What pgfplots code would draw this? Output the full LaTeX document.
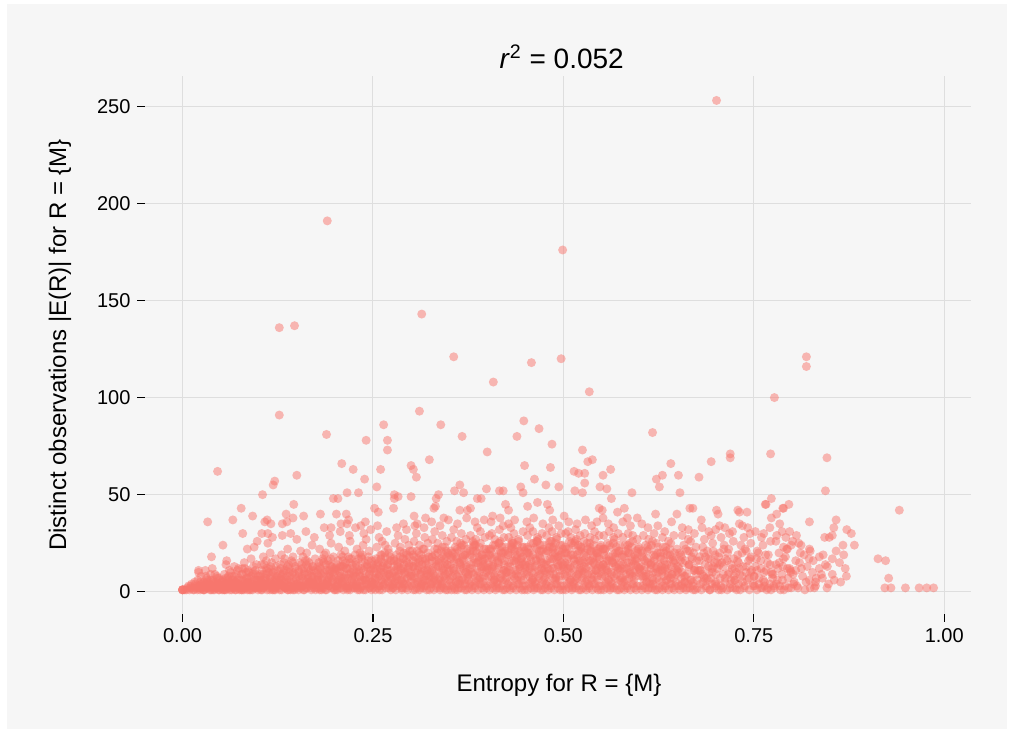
\documentclass[border=0pt]{standalone}
\usepackage{pgfplots}
\pgfplotsset{compat=1.18}
\usepackage{fontspec}
\setmainfont{Liberation Sans}
\definecolor{bgc}{HTML}{F6F6F6}
\definecolor{gridc}{HTML}{DEDEDE}
\definecolor{ptc}{HTML}{F8766D}
\begin{document}
\begin{tikzpicture}
\fill[white] (0,0) rectangle (507pt,364.5pt);
\fill[bgc] (3.5pt,0pt) rectangle (503.5pt,362.5pt);
\begin{axis}[
  at={(72.5pt,57.35pt)}, anchor=south west,
  scale only axis, width=412.85pt, height=269.15pt,
  xmin=-0.0493, xmax=1.0347, ymin=-11.6, ymax=265.6,
  xtick={0,0.25,0.5,0.75,1}, xticklabels={0.00,0.25,0.50,0.75,1.00},
  ytick={0,50,100,150,200,250},
  axis line style={draw=none},
  tick align=outside, tick pos=left, major tick length=3.75pt,
  tick style={black, line width=0.6pt},
  grid=major, major grid style={color=gridc, line width=0.5pt},
  ticklabel style={font=\fontsize{10}{12}\selectfont, text=black},
  /pgf/number format/assume math mode=true,
]
\addplot[only marks, color=ptc, mark=*, mark size=2.25pt, mark options={draw=ptc, fill=ptc, draw opacity=0, fill opacity=0.5, line width=0pt}] coordinates {
(0.701,253) (0.190,191) (0.499,176) (0.127,136) (0.147,137) (0.314,143) (0.356,121) (0.458,118) (0.497,120) (0.408,108) (0.534,103) (0.819,121) (0.819,116) (0.777,100)
(0.127,91) (0.311,93) (0.189,81) (0.264,86) (0.241,78) (0.269,78) (0.269,73) (0.046,62) (0.209,66) (0.224,63) (0.260,63) (0.150,60) (0.121,57) (0.119,55) (0.239,58) (0.300,65) (0.303,63) (0.307,59) (0.255,54) (0.105,50) (0.216,51) (0.231,51) (0.198,48) (0.204,48) (0.278,50) (0.283,49) (0.278,48) (0.300,49) (0.146,45) (0.077,43) (0.092,39) (0.033,36) (0.066,37) (0.136,40) (0.159,39) (0.181,40) (0.202,40) (0.215,40) (0.218,37) (0.252,43) (0.257,41) (0.277,43) (0.304,39) (0.111,37) (0.108,36) (0.116,35) (0.145,38) (0.137,36) (0.131,35) (0.195,33) (0.208,35) (0.216,35) (0.240,36) (0.234,34) (0.290,35) (0.308,35)
(0.339,86) (0.367,80) (0.448,88) (0.468,84) (0.439,80) (0.485,76) (0.400,72) (0.617,82) (0.324,68) (0.449,65) (0.483,64) (0.525,73) (0.532,67) (0.538,68) (0.514,62) (0.520,61) (0.528,61) (0.562,63) (0.552,60) (0.641,66) (0.622,58) (0.630,60) (0.626,54) (0.651,60) (0.653,51) (0.462,58) (0.477,55) (0.494,54) (0.444,54) (0.447,51) (0.399,53) (0.416,52) (0.421,52) (0.357,52) (0.364,55) (0.369,51) (0.336,50) (0.333,48) (0.332,44) (0.330,43) (0.387,48) (0.392,48) (0.515,52) (0.525,51) (0.528,56) (0.548,54) (0.557,53) (0.590,51) (0.563,48) (0.424,45) (0.428,42) (0.453,44) (0.466,46) (0.479,45) (0.482,42) (0.378,43) (0.364,42) (0.374,42) (0.407,39) (0.319,38) (0.343,38) (0.501,39) (0.547,43) (0.551,42) (0.552,38) (0.571,41) (0.580,43) (0.584,38) (0.597,38) (0.621,40) (0.649,40) (0.666,43)
(0.719,71) (0.719,69) (0.694,67) (0.678,59) (0.772,71) (0.846,69) (0.844,52) (0.941,42) (0.773,48) (0.765,45) (0.766,45) (0.773,38) (0.780,40) (0.789,43) (0.796,45) (0.670,43) (0.701,42) (0.703,40) (0.729,42) (0.731,41) (0.741,41) (0.681,37) (0.705,34) (0.735,34) (0.823,36) (0.858,37) (0.855,33) (0.872,32)
(0.913,17) (0.923,16) (0.927,7) (0.922,2) (0.930,2) (0.949,2) (0.967,2) (0.977,2) (0.986,2) (0.878,30) (0.882,24) (0.867,24) (0.868,19) (0.843,28) (0.849,28) (0.853,29) (0.841,19) (0.853,17) (0.836,12) (0.832,7) (0.831,5) (0.824,2) (0.846,2) (0.823,22) (0.828,16) (0.816,19) (0.824,21) (0.803,5) (0.810,15) (0.805,11) (0.798,11) (0.794,12) (0.788,13) (0.799,24) (0.809,25) (0.794,22) (0.789,23) (0.797,31) (0.787,31) (0.780,29) (0.779,26) (0.784,3) (0.776,3) (0.764,3) (0.759,2) (0.773,10) (0.768,15) (0.754,11) (0.788,43)
(0,1) (0,1) (0,1) (0,1) (0.003,1) (0.006,2) (0.009,1) (0.011,3) (0.013,2) (0.015,1) (0.017,4) (0.019,2) (0.020,6) (0.022,3) (0.023,1) (0.024,8) (0.016,5) (0.021,10) (0.012,4) (0.008,3)
(0.026,2) (0.028,5) (0.029,1) (0.031,3) (0.032,7) (0.033,2) (0.035,4) (0.036,1) (0.037,9) (0.038,3) (0.040,6) (0.041,2) (0.042,1) (0.043,5) (0.044,3) (0.045,8) (0.046,2) (0.047,4) (0.048,1) (0.049,6) (0.030,11) (0.039,12)
(0.051,3) (0.052,1) (0.053,6) (0.054,2) (0.055,9) (0.056,4) (0.057,1) (0.058,3) (0.059,7) (0.060,2) (0.061,5) (0.062,1) (0.063,10) (0.064,3) (0.065,6) (0.066,2) (0.067,4) (0.068,8) (0.069,1) (0.070,5) (0.071,3) (0.072,11) (0.073,2) (0.074,7) (0.057,14) (0.068,13)
(0.076,2) (0.077,6) (0.078,1) (0.079,9) (0.080,3) (0.081,4) (0.082,12) (0.083,2) (0.084,7) (0.085,1) (0.086,5) (0.087,10) (0.088,3) (0.089,2) (0.090,8) (0.091,4) (0.092,1) (0.093,13) (0.094,6) (0.095,2) (0.096,9) (0.097,3) (0.098,5) (0.099,1) (0.081,15) (0.090,17) (0.097,14) (0.086,11)
(0.101,3) (0.102,8) (0.103,1) (0.104,11) (0.105,4) (0.106,2) (0.107,14) (0.108,6) (0.109,3) (0.110,9) (0.111,1) (0.112,5) (0.113,12) (0.114,2) (0.115,7) (0.116,4) (0.117,15) (0.118,1) (0.119,10) (0.120,3) (0.121,6) (0.122,2) (0.123,13) (0.124,8) (0.106,18) (0.115,20) (0.122,17) (0.110,16) (0.104,5) (0.119,4)
(0.126,2) (0.127,7) (0.128,4) (0.129,12) (0.130,1) (0.131,9) (0.132,3) (0.133,15) (0.134,5) (0.135,2) (0.136,11) (0.137,6) (0.138,1) (0.139,14) (0.140,3) (0.141,8) (0.142,4) (0.143,16) (0.144,2) (0.145,10) (0.146,5) (0.147,1) (0.148,13) (0.149,7) (0.130,19) (0.138,22) (0.145,18) (0.134,17) (0.141,3) (0.128,9)
(0.151,4) (0.152,1) (0.153,10) (0.154,6) (0.155,2) (0.156,14) (0.157,8) (0.158,3) (0.159,12) (0.160,1) (0.161,16) (0.162,5) (0.163,2) (0.164,9) (0.165,7) (0.166,15) (0.167,3) (0.168,11) (0.169,1) (0.170,6) (0.171,13) (0.172,4) (0.173,2) (0.174,17) (0.155,21) (0.163,20) (0.170,24) (0.158,18) (0.167,5) (0.153,3)
(0.176,2) (0.177,9) (0.178,5) (0.179,15) (0.180,1) (0.181,12) (0.182,3) (0.183,7) (0.184,17) (0.185,2) (0.186,10) (0.187,4) (0.188,14) (0.189,1) (0.190,6) (0.191,16) (0.192,3) (0.193,11) (0.194,8) (0.195,2) (0.196,13) (0.197,5) (0.198,18) (0.199,1) (0.180,22) (0.188,20) (0.195,25) (0.184,4) (0.192,7) (0.178,11) (0.186,19) (0.198,9)
(0.201,3) (0.202,11) (0.203,1) (0.204,16) (0.205,6) (0.206,2) (0.207,13) (0.208,8) (0.209,4) (0.210,18) (0.211,1) (0.212,9) (0.213,5) (0.214,15) (0.215,2) (0.216,12) (0.217,7) (0.218,3) (0.219,17) (0.220,1) (0.221,10) (0.222,6) (0.223,14) (0.224,4) (0.205,23) (0.213,21) (0.220,26) (0.208,19) (0.216,3) (0.224,8) (0.202,5) (0.211,13)
(0.226,2) (0.227,8) (0.228,14) (0.229,4) (0.230,1) (0.231,17) (0.232,10) (0.233,5) (0.234,2) (0.235,12) (0.236,19) (0.237,6) (0.238,3) (0.239,15) (0.240,1) (0.241,9) (0.242,13) (0.243,4) (0.244,18) (0.245,7) (0.246,2) (0.247,11) (0.248,16) (0.249,5) (0.229,22) (0.237,24) (0.245,21) (0.233,20) (0.241,27) (0.228,3) (0.235,6) (0.248,1)
(0.251,4) (0.252,12) (0.253,1) (0.254,17) (0.255,7) (0.256,2) (0.257,15) (0.258,9) (0.259,3) (0.260,19) (0.261,6) (0.262,1) (0.263,13) (0.264,10) (0.265,4) (0.266,18) (0.267,2) (0.268,8) (0.269,14) (0.270,5) (0.271,20) (0.272,3) (0.273,11) (0.274,16) (0.255,23) (0.262,26) (0.270,22) (0.258,28) (0.266,24) (0.253,6) (0.261,11) (0.272,8)
(0.276,2) (0.277,10) (0.278,16) (0.279,5) (0.280,1) (0.281,19) (0.282,8) (0.283,13) (0.284,3) (0.285,21) (0.286,6) (0.287,11) (0.288,1) (0.289,17) (0.290,4) (0.291,14) (0.292,9) (0.293,2) (0.294,20) (0.295,7) (0.296,12) (0.297,3) (0.298,18) (0.299,5) (0.279,25) (0.286,23) (0.292,27) (0.297,24) (0.283,29) (0.277,4) (0.289,2) (0.295,15) (0.281,7) (0.291,10)
(0.301,3) (0.302,13) (0.303,1) (0.304,18) (0.305,7) (0.306,10) (0.307,2) (0.308,21) (0.309,5) (0.310,15) (0.311,1) (0.312,9) (0.313,19) (0.314,4) (0.315,12) (0.316,2) (0.317,22) (0.318,6) (0.319,16) (0.320,3) (0.321,11) (0.322,20) (0.323,8) (0.324,1) (0.304,26) (0.311,24) (0.318,28) (0.322,25) (0.307,30) (0.315,5) (0.302,8) (0.320,14) (0.313,3) (0.309,17)
(0.326,2) (0.327,11) (0.328,18) (0.329,5) (0.330,1) (0.331,22) (0.332,8) (0.333,14) (0.334,3) (0.335,20) (0.336,6) (0.337,10) (0.338,1) (0.339,17) (0.340,4) (0.341,23) (0.342,12) (0.343,2) (0.344,15) (0.345,7) (0.346,21) (0.347,3) (0.348,9) (0.349,19) (0.328,27) (0.335,25) (0.341,29) (0.347,26) (0.331,31) (0.339,6) (0.345,13) (0.327,4) (0.343,8) (0.333,16) (0.348,1)
(0.351,3) (0.352,14) (0.353,1) (0.354,20) (0.355,8) (0.356,11) (0.357,2) (0.358,23) (0.359,5) (0.360,17) (0.361,1) (0.362,9) (0.363,21) (0.364,4) (0.365,13) (0.366,2) (0.367,24) (0.368,7) (0.369,16) (0.370,3) (0.371,19) (0.372,10) (0.373,1) (0.374,22) (0.353,28) (0.360,26) (0.366,30) (0.372,27) (0.356,32) (0.363,6) (0.369,12) (0.352,5) (0.359,18) (0.371,4) (0.365,25)
(0.376,2) (0.377,12) (0.378,19) (0.379,5) (0.380,1) (0.381,23) (0.382,9) (0.383,15) (0.384,3) (0.385,21) (0.386,7) (0.387,11) (0.388,1) (0.389,18) (0.390,4) (0.391,25) (0.392,13) (0.393,2) (0.394,16) (0.395,8) (0.396,22) (0.397,3) (0.398,10) (0.399,20) (0.378,29) (0.385,27) (0.391,31) (0.397,28) (0.381,26) (0.389,6) (0.395,14) (0.377,4) (0.393,17) (0.383,24) (0.399,2) (0.387,33)
(0.401,3) (0.402,15) (0.403,1) (0.404,21) (0.405,8) (0.406,12) (0.407,2) (0.408,24) (0.409,6) (0.410,18) (0.411,1) (0.412,10) (0.413,22) (0.414,4) (0.415,14) (0.416,2) (0.417,26) (0.418,7) (0.419,17) (0.420,3) (0.421,20) (0.422,11) (0.423,1) (0.424,23) (0.403,29) (0.410,27) (0.416,32) (0.422,28) (0.406,30) (0.413,5) (0.419,9) (0.402,19) (0.408,13) (0.424,6) (0.415,25) (0.421,34)
(0.426,2) (0.427,13) (0.428,20) (0.429,5) (0.430,1) (0.431,24) (0.432,9) (0.433,16) (0.434,3) (0.435,22) (0.436,7) (0.437,11) (0.438,1) (0.439,19) (0.440,4) (0.441,26) (0.442,14) (0.443,2) (0.444,17) (0.445,8) (0.446,23) (0.447,3) (0.448,10) (0.449,21) (0.428,28) (0.435,30) (0.441,27) (0.447,31) (0.431,33) (0.439,6) (0.445,15) (0.427,4) (0.443,12) (0.433,25) (0.449,1) (0.437,18)
(0.451,3) (0.452,16) (0.453,1) (0.454,22) (0.455,8) (0.456,12) (0.457,2) (0.458,25) (0.459,6) (0.460,19) (0.461,1) (0.462,10) (0.463,23) (0.464,4) (0.465,14) (0.466,2) (0.467,27) (0.468,7) (0.469,18) (0.470,3) (0.471,21) (0.472,11) (0.473,1) (0.474,24) (0.453,29) (0.460,31) (0.466,28) (0.472,30) (0.456,33) (0.463,5) (0.469,9) (0.452,20) (0.458,13) (0.474,6) (0.465,26) (0.471,15)
(0.476,2) (0.477,14) (0.478,21) (0.479,5) (0.480,1) (0.481,25) (0.482,9) (0.483,17) (0.484,3) (0.485,23) (0.486,7) (0.487,12) (0.488,1) (0.489,20) (0.490,4) (0.491,27) (0.492,15) (0.493,2) (0.494,18) (0.495,8) (0.496,24) (0.497,3) (0.498,11) (0.499,22) (0.478,29) (0.485,31) (0.491,28) (0.497,30) (0.481,33) (0.489,6) (0.495,16) (0.477,4) (0.493,13) (0.483,26) (0.499,1) (0.487,19)
(0.501,3) (0.502,15) (0.503,1) (0.504,22) (0.505,8) (0.506,12) (0.507,2) (0.508,26) (0.509,6) (0.510,19) (0.511,1) (0.512,10) (0.513,24) (0.514,4) (0.515,14) (0.516,2) (0.517,27) (0.518,7) (0.519,17) (0.520,3) (0.521,21) (0.522,11) (0.523,1) (0.524,23) (0.503,30) (0.510,28) (0.516,32) (0.522,29) (0.506,31) (0.513,5) (0.519,9) (0.502,20) (0.508,13) (0.524,6) (0.515,25) (0.521,16)
(0.526,2) (0.527,13) (0.528,20) (0.529,5) (0.530,1) (0.531,25) (0.532,9) (0.533,16) (0.534,3) (0.535,23) (0.536,7) (0.537,11) (0.538,1) (0.539,19) (0.540,4) (0.541,27) (0.542,14) (0.543,2) (0.544,18) (0.545,8) (0.546,22) (0.547,3) (0.548,10) (0.549,24) (0.528,30) (0.535,28) (0.541,31) (0.547,29) (0.531,6) (0.539,15) (0.545,12) (0.527,26) (0.543,21) (0.533,4) (0.549,1)
(0.551,3) (0.552,14) (0.553,1) (0.554,21) (0.555,8) (0.556,12) (0.557,2) (0.558,25) (0.559,6) (0.560,18) (0.561,1) (0.562,10) (0.563,23) (0.564,4) (0.565,15) (0.566,2) (0.567,27) (0.568,7) (0.569,17) (0.570,3) (0.571,20) (0.572,11) (0.573,1) (0.574,24) (0.553,29) (0.560,31) (0.566,28) (0.572,30) (0.556,5) (0.563,9) (0.569,13) (0.552,22) (0.558,16) (0.574,6)
(0.576,2) (0.577,12) (0.578,19) (0.579,5) (0.580,1) (0.581,24) (0.582,9) (0.583,15) (0.584,3) (0.585,22) (0.586,7) (0.587,11) (0.588,1) (0.589,18) (0.590,4) (0.591,26) (0.592,14) (0.593,2) (0.594,17) (0.595,8) (0.596,21) (0.597,3) (0.598,10) (0.599,23) (0.578,28) (0.585,30) (0.591,29) (0.597,27) (0.581,6) (0.589,13) (0.595,16) (0.587,25)
(0.601,3) (0.602,13) (0.603,1) (0.604,20) (0.605,7) (0.606,11) (0.607,2) (0.608,24) (0.609,5) (0.610,17) (0.611,1) (0.612,9) (0.613,22) (0.614,4) (0.615,14) (0.616,2) (0.617,26) (0.618,6) (0.619,16) (0.620,3) (0.621,19) (0.622,10) (0.623,1) (0.624,23) (0.605,29) (0.612,27) (0.619,30) (0.608,8) (0.615,12) (0.622,25)
(0.626,2) (0.627,11) (0.628,18) (0.629,5) (0.630,1) (0.631,23) (0.632,8) (0.633,14) (0.634,3) (0.635,21) (0.636,6) (0.637,10) (0.638,1) (0.639,17) (0.640,4) (0.641,25) (0.642,13) (0.643,2) (0.644,16) (0.645,7) (0.646,20) (0.647,3) (0.648,9) (0.649,22) (0.630,28) (0.638,26) (0.645,29) (0.633,12)
(0.651,3) (0.652,12) (0.653,1) (0.654,19) (0.655,7) (0.656,10) (0.657,2) (0.658,24) (0.659,5) (0.660,16) (0.661,1) (0.662,9) (0.663,21) (0.664,4) (0.665,14) (0.666,2) (0.667,26) (0.668,6) (0.669,17) (0.670,3) (0.671,20) (0.672,11) (0.673,1) (0.674,23) (0.656,29) (0.664,27)
(0.676,2) (0.677,11) (0.679,18) (0.680,4) (0.681,1) (0.683,23) (0.684,8) (0.686,14) (0.687,3) (0.689,21) (0.690,6) (0.691,10) (0.692,1) (0.693,17) (0.695,4) (0.696,25) (0.697,13) (0.698,2) (0.699,19) (0.685,27) (0.694,29) (0.688,7)
(0.701,3) (0.702,12) (0.704,1) (0.705,20) (0.706,7) (0.708,15) (0.709,2) (0.711,24) (0.712,5) (0.713,17) (0.715,1) (0.716,9) (0.717,22) (0.719,4) (0.720,14) (0.722,2) (0.723,26) (0.724,8) (0.707,28) (0.718,30)
(0.726,2) (0.727,10) (0.729,19) (0.730,4) (0.732,1) (0.733,24) (0.735,8) (0.736,13) (0.738,3) (0.740,21) (0.741,6) (0.743,16) (0.744,1) (0.746,25) (0.747,11) (0.749,3) (0.737,28) (0.745,30)
(0.751,3) (0.752,13) (0.754,1) (0.756,20) (0.757,7) (0.759,16) (0.761,2) (0.762,24) (0.764,5) (0.766,11) (0.767,1) (0.769,19) (0.771,4) (0.772,26) (0.774,9) (0.760,28)
(0.777,2) (0.779,14) (0.781,6) (0.783,20) (0.785,1) (0.787,9) (0.789,17) (0.791,3) (0.793,22) (0.795,7) (0.797,12) (0.799,2)
(0.802,4) (0.805,16) (0.808,2) (0.811,20) (0.814,8) (0.817,1) (0.820,13) (0.823,6)
(0.827,10) (0.831,3) (0.836,18) (0.840,7) (0.844,14) (0.848,4) (0.853,9) (0.858,21) (0.864,5) (0.870,12)
(0.085,22) (0.098,26) (0.112,25) (0.118,28) (0.131,29) (0.142,30) (0.104,30) (0.112,30) (0.094,23) (0.053,24) (0.038,18) (0.079,30) (0.021,11) (0.058,16) (0.150,27) (0.162,31) (0.173,28) (0.186,33) (0.193,29) (0.207,31) (0.219,29) (0.227,33) (0.238,30) (0.247,32) (0.256,34) (0.268,31) (0.281,33) (0.294,32) (0.305,34) (0.317,33) (0.327,36) (0.338,34) (0.349,37) (0.361,35) (0.373,38) (0.384,36) (0.396,37) (0.405,36) (0.417,38) (0.428,35) (0.436,37) (0.452,36) (0.461,38) (0.473,35) (0.486,37) (0.494,34) (0.507,36) (0.518,35) (0.529,37) (0.537,34) (0.544,36) (0.559,35) (0.566,33) (0.578,36) (0.588,34) (0.603,35) (0.611,33) (0.624,34) (0.633,31) (0.642,36) (0.656,33) (0.664,32) (0.672,30) (0.682,33) (0.691,31) (0.700,32) (0.712,33) (0.722,31) (0.731,35) (0.742,33) (0.752,31) (0.763,30) (0.771,33) (0.784,35) (0.792,28) (0.801,26) (0.812,24) (0.806,29)
(0.005,1) (0.010,2) (0.014,1) (0.018,3) (0.0215,2) (0.0245,4) (0.0195,1) (0.0235,5)
(0.0255,3) (0.0275,1) (0.0295,4) (0.0315,2) (0.0335,6) (0.0355,3) (0.0375,1) (0.0395,5) (0.0415,3) (0.0435,2) (0.0455,7) (0.0475,1) (0.0495,3) (0.0305,8) (0.0425,9)
(0.0505,2) (0.0525,5) (0.0545,1) (0.0565,7) (0.0585,3) (0.0605,8) (0.0625,4) (0.0645,1) (0.0665,6) (0.0685,2) (0.0705,9) (0.0725,4) (0.0745,1) (0.0555,3) (0.0615,11) (0.0695,5) (0.0735,12)
(0.0755,4) (0.0775,1) (0.0795,6) (0.0815,2) (0.0835,10) (0.0855,3) (0.0875,7) (0.0895,1) (0.0915,5) (0.0935,3) (0.0955,11) (0.0975,2) (0.0995,8) (0.0785,12) (0.0865,4) (0.0925,9) (0.0985,6) (0.0805,1)
(0.1005,2) (0.1025,6) (0.1045,1) (0.1065,9) (0.1085,3) (0.1105,12) (0.1125,4) (0.1145,1) (0.1165,8) (0.1185,2) (0.1205,11) (0.1225,5) (0.1245,3) (0.1035,14) (0.1095,7) (0.1155,13) (0.1215,1) (0.1075,4) (0.1135,10) (0.1235,6)
(0.1255,5) (0.1275,1) (0.1295,8) (0.1315,3) (0.1335,11) (0.1355,2) (0.1375,13) (0.1395,6) (0.1415,1) (0.1435,9) (0.1455,3) (0.1475,12) (0.1495,4) (0.1285,14) (0.1345,7) (0.1405,10) (0.1465,2) (0.1325,5) (0.1385,1) (0.1445,15)
(0.1505,2) (0.1525,8) (0.1545,3) (0.1565,12) (0.1585,1) (0.1605,6) (0.1625,14) (0.1645,4) (0.1665,10) (0.1685,2) (0.1705,13) (0.1725,7) (0.1745,1) (0.1535,15) (0.1595,9) (0.1655,5) (0.1715,11) (0.1575,3) (0.1635,16) (0.1695,8) (0.1735,4)
(0.1755,4) (0.1775,13) (0.1795,2) (0.1815,9) (0.1835,6) (0.1855,15) (0.1875,1) (0.1895,11) (0.1915,3) (0.1935,14) (0.1955,7) (0.1975,2) (0.1995,12) (0.1785,8) (0.1845,16) (0.1905,5) (0.1965,10) (0.1825,1) (0.1885,4) (0.1945,17) (0.1765,6)
(0.2005,1) (0.2025,14) (0.2045,4) (0.2065,10) (0.2085,2) (0.2105,16) (0.2125,7) (0.2145,12) (0.2165,1) (0.2185,9) (0.2205,15) (0.2225,3) (0.2245,11) (0.2035,6) (0.2095,13) (0.2155,5) (0.2215,17) (0.2055,8) (0.2115,3) (0.2175,18) (0.2235,2) (0.2015,12)
(0.2255,6) (0.2275,15) (0.2295,2) (0.2315,11) (0.2335,8) (0.2355,17) (0.2375,1) (0.2395,13) (0.2415,4) (0.2435,16) (0.2455,9) (0.2475,3) (0.2495,14) (0.2285,10) (0.2345,18) (0.2405,6) (0.2465,12) (0.2325,1) (0.2385,7) (0.2445,2) (0.2265,19) (0.2485,5)
(0.2505,2) (0.2525,16) (0.2545,9) (0.2565,13) (0.2585,1) (0.2605,17) (0.2625,5) (0.2645,15) (0.2665,7) (0.2685,11) (0.2705,2) (0.2725,18) (0.2745,6) (0.2535,4) (0.2595,12) (0.2655,20) (0.2715,9) (0.2575,8) (0.2635,3) (0.2695,14) (0.2735,1) (0.2515,10) (0.2615,19)
(0.2755,7) (0.2775,17) (0.2795,3) (0.2815,14) (0.2835,9) (0.2855,18) (0.2875,2) (0.2895,12) (0.2915,6) (0.2935,16) (0.2955,1) (0.2975,13) (0.2995,8) (0.2785,11) (0.2845,4) (0.2905,20) (0.2965,10) (0.2825,15) (0.2885,5) (0.2945,19) (0.2765,2) (0.2985,21) (0.2865,12)
(0.3005,9) (0.3025,19) (0.3045,4) (0.3065,15) (0.3085,11) (0.3105,20) (0.3125,2) (0.3145,14) (0.3165,7) (0.3185,17) (0.3205,1) (0.3225,12) (0.3245,5) (0.3035,13) (0.3095,6) (0.3155,22) (0.3215,9) (0.3055,1) (0.3115,16) (0.3175,3) (0.3235,18) (0.3015,21) (0.3135,10) (0.3195,8)
(0.3255,4) (0.3275,16) (0.3295,9) (0.3315,19) (0.3335,2) (0.3355,13) (0.3375,7) (0.3395,21) (0.3415,5) (0.3435,17) (0.3455,1) (0.3475,14) (0.3495,10) (0.3285,12) (0.3345,22) (0.3405,3) (0.3465,18) (0.3305,6) (0.3365,15) (0.3425,11) (0.3485,20) (0.3265,8) (0.3385,2) (0.3445,23)
(0.3505,11) (0.3525,21) (0.3545,3) (0.3565,16) (0.3585,9) (0.3605,22) (0.3625,2) (0.3645,14) (0.3665,6) (0.3685,19) (0.3705,1) (0.3725,13) (0.3745,8) (0.3535,18) (0.3595,5) (0.3655,23) (0.3715,10) (0.3555,12) (0.3615,4) (0.3675,17) (0.3735,20) (0.3515,7) (0.3635,15) (0.3695,24) (0.3575,1)
(0.3755,6) (0.3775,18) (0.3795,10) (0.3815,21) (0.3835,2) (0.3855,15) (0.3875,8) (0.3895,23) (0.3915,4) (0.3935,19) (0.3955,1) (0.3975,13) (0.3995,11) (0.3785,14) (0.3845,24) (0.3905,7) (0.3965,17) (0.3805,3) (0.3865,20) (0.3925,12) (0.3985,22) (0.3765,9) (0.3885,16) (0.3945,5) (0.3825,25)
(0.4005,12) (0.4025,22) (0.4045,4) (0.4065,17) (0.4085,9) (0.4105,24) (0.4125,2) (0.4145,15) (0.4165,7) (0.4185,20) (0.4205,1) (0.4225,14) (0.4245,10) (0.4035,19) (0.4095,6) (0.4155,25) (0.4215,11) (0.4055,13) (0.4115,3) (0.4175,18) (0.4235,21) (0.4015,8) (0.4135,16) (0.4195,23) (0.4075,5)
(0.4255,7) (0.4275,19) (0.4295,11) (0.4315,22) (0.4335,2) (0.4355,16) (0.4375,9) (0.4395,24) (0.4415,4) (0.4435,20) (0.4455,1) (0.4475,14) (0.4495,12) (0.4285,15) (0.4345,25) (0.4405,8) (0.4465,18) (0.4305,3) (0.4365,21) (0.4425,13) (0.4485,23) (0.4265,10) (0.4385,17) (0.4445,6) (0.4325,26)
(0.4505,13) (0.4525,23) (0.4545,4) (0.4565,18) (0.4585,10) (0.4605,25) (0.4625,2) (0.4645,16) (0.4665,8) (0.4685,21) (0.4705,1) (0.4725,15) (0.4745,11) (0.4535,20) (0.4595,6) (0.4655,26) (0.4715,12) (0.4555,14) (0.4615,3) (0.4675,19) (0.4735,22) (0.4515,9) (0.4635,17) (0.4695,24) (0.4575,5)
(0.4755,7) (0.4775,20) (0.4795,12) (0.4815,23) (0.4835,2) (0.4855,17) (0.4875,9) (0.4895,25) (0.4915,4) (0.4935,21) (0.4955,1) (0.4975,15) (0.4995,13) (0.4785,16) (0.4845,26) (0.4905,8) (0.4965,19) (0.4805,3) (0.4865,22) (0.4925,14) (0.4985,24) (0.4765,10) (0.4885,18) (0.4945,6) (0.4825,11)
(0.5005,12) (0.5025,23) (0.5045,4) (0.5065,18) (0.5085,10) (0.5105,25) (0.5125,2) (0.5145,16) (0.5165,8) (0.5185,21) (0.5205,1) (0.5225,15) (0.5245,11) (0.5035,20) (0.5095,6) (0.5155,26) (0.5215,12) (0.5055,14) (0.5115,3) (0.5175,19) (0.5235,22) (0.5015,9) (0.5135,17) (0.5195,24) (0.5075,5)
(0.5255,7) (0.5275,19) (0.5295,12) (0.5315,22) (0.5335,2) (0.5355,16) (0.5375,9) (0.5395,24) (0.5415,4) (0.5435,20) (0.5455,1) (0.5475,14) (0.5495,13) (0.5285,15) (0.5345,25) (0.5405,8) (0.5465,18) (0.5305,3) (0.5365,21) (0.5425,11) (0.5485,23) (0.5265,10) (0.5385,17) (0.5445,6)
(0.5505,12) (0.5525,22) (0.5545,4) (0.5565,17) (0.5585,10) (0.5605,24) (0.5625,2) (0.5645,15) (0.5665,8) (0.5685,20) (0.5705,1) (0.5725,14) (0.5745,11) (0.5535,19) (0.5595,6) (0.5655,25) (0.5715,12) (0.5555,13) (0.5615,3) (0.5675,18) (0.5735,21) (0.5515,9) (0.5635,16) (0.5695,23)
(0.5755,7) (0.5775,18) (0.5795,11) (0.5815,21) (0.5835,2) (0.5855,15) (0.5875,9) (0.5895,23) (0.5915,4) (0.5935,19) (0.5955,1) (0.5975,13) (0.5995,12) (0.5785,14) (0.5845,24) (0.5905,8) (0.5965,17) (0.5805,3) (0.5865,20) (0.5925,10) (0.5985,22) (0.5765,5)
(0.6005,11) (0.6025,21) (0.6045,3) (0.6065,16) (0.6085,9) (0.6105,23) (0.6125,2) (0.6145,14) (0.6165,7) (0.6185,19) (0.6205,1) (0.6225,13) (0.6245,10) (0.6035,18) (0.6095,5) (0.6155,24) (0.6215,12) (0.6055,8) (0.6115,15) (0.6175,4) (0.6235,20)
(0.6255,6) (0.6275,17) (0.6295,10) (0.6315,20) (0.6335,2) (0.6355,14) (0.6375,8) (0.6395,22) (0.6415,4) (0.6435,18) (0.6455,1) (0.6475,12) (0.6495,11) (0.6285,13) (0.6345,23) (0.6405,7) (0.6465,16) (0.6305,3) (0.6365,19) (0.6425,9)
(0.6505,10) (0.6525,20) (0.6545,3) (0.6565,15) (0.6585,8) (0.6605,22) (0.6625,2) (0.6645,13) (0.6665,6) (0.6685,18) (0.6705,1) (0.6725,12) (0.6745,9) (0.6535,16) (0.6595,5) (0.6655,21) (0.6715,11) (0.6555,4)
(0.6755,6) (0.6785,16) (0.6815,9) (0.6845,20) (0.6875,2) (0.6905,13) (0.6935,7) (0.6965,21) (0.6995,4) (0.6795,11) (0.6865,18) (0.6925,1) (0.6985,15) (0.6835,5) (0.6955,10)
(0.7005,9) (0.7035,18) (0.7065,3) (0.7095,13) (0.7125,7) (0.7155,20) (0.7185,2) (0.7215,12) (0.7245,6) (0.7025,15) (0.7105,22) (0.7175,10) (0.7235,17) (0.7075,1)
(0.7255,6) (0.7285,16) (0.7315,9) (0.7345,20) (0.7375,2) (0.7405,13) (0.7435,7) (0.7465,18) (0.7495,4) (0.7305,12) (0.7385,22) (0.7455,10) (0.7275,1)
(0.7505,8) (0.7535,17) (0.7565,4) (0.7595,12) (0.7625,6) (0.7655,19) (0.7685,2) (0.7715,14) (0.7745,7) (0.7545,21) (0.7635,10) (0.7725,1)
(0.7755,9) (0.7795,4) (0.7835,15) (0.7875,6) (0.7915,18) (0.7955,2) (0.7985,10) (0.7815,12) (0.7895,1)
(0.8015,9) (0.8065,3) (0.8125,12) (0.8185,5) (0.8225,17)
(0.8295,2) (0.8385,9) (0.8465,13) (0.8555,6) (0.8625,15) (0.8715,8)
(0.0225,2) (0.0250,4) (0.0275,1) (0.0300,3) (0.0325,5) (0.0350,2) (0.0375,6) (0.0400,1) (0.0425,4) (0.0450,3) (0.0475,7) (0.0500,2) (0.0525,5) (0.0550,1) (0.0575,4) (0.0600,6) (0.0625,2) (0.0650,8) (0.0675,3) (0.0700,1) (0.0725,6) (0.0750,3) (0.0775,9) (0.0800,2) (0.0825,5) (0.0850,7) (0.0875,1) (0.0900,4) (0.0925,10) (0.0950,2) (0.0975,6) (0.1000,4)
(0.1025,9) (0.1050,2) (0.1075,7) (0.1100,11) (0.1125,3) (0.1150,5) (0.1175,9) (0.1200,1) (0.1225,7) (0.1250,11) (0.1275,4) (0.1300,6) (0.1325,10) (0.1350,2) (0.1375,8) (0.1400,12) (0.1425,5) (0.1450,1) (0.1475,9) (0.1500,6) (0.1525,11) (0.1550,3) (0.1575,7) (0.1600,10) (0.1625,2) (0.1650,12) (0.1675,5) (0.1700,8) (0.1725,3) (0.1750,10) (0.1775,6) (0.1800,13) (0.1825,2) (0.1850,8) (0.1875,11) (0.1900,4) (0.1925,9) (0.1950,13) (0.1975,6) (0.2000,10) (0.2025,3) (0.2050,12) (0.2075,7) (0.2100,5) (0.2125,14) (0.2150,9) (0.2175,2) (0.2200,12) (0.2225,7) (0.2250,10) (0.2275,4) (0.2300,13) (0.2325,8) (0.2350,3) (0.2375,11) (0.2400,6) (0.2425,14) (0.2450,9) (0.2475,5) (0.2500,12)
(0.2525,7) (0.2550,14) (0.2575,3) (0.2600,10) (0.2625,15) (0.2650,6) (0.2675,12) (0.2700,9) (0.2725,16) (0.2750,4) (0.2775,13) (0.2800,8) (0.2825,11) (0.2850,15) (0.2875,6) (0.2900,17) (0.2925,10) (0.2950,4) (0.2975,14) (0.3000,8) (0.3025,16) (0.3050,12) (0.3075,5) (0.3100,13) (0.3125,9) (0.3150,17) (0.3175,11) (0.3200,6) (0.3225,15) (0.3250,10) (0.3275,18) (0.3300,7) (0.3325,13) (0.3350,4) (0.3375,16) (0.3400,11) (0.3425,19) (0.3450,9) (0.3475,14) (0.3500,6) (0.3525,17) (0.3550,12) (0.3575,20) (0.3600,8) (0.3625,15) (0.3650,11) (0.3675,18) (0.3700,6) (0.3725,14) (0.3750,9) (0.3775,21) (0.3800,12) (0.3825,17) (0.3850,5) (0.3875,15) (0.3900,10) (0.3925,19) (0.3950,13) (0.3975,7) (0.4000,17) (0.4025,11) (0.4050,22) (0.4075,14) (0.4100,8) (0.4125,18) (0.4150,12) (0.4175,21) (0.4200,6) (0.4225,16) (0.4250,10) (0.4275,19) (0.4300,13) (0.4325,23) (0.4350,8) (0.4375,15) (0.4400,11) (0.4425,21) (0.4450,17) (0.4475,6) (0.4500,14)
(0.4525,10) (0.4550,20) (0.4575,16) (0.4600,7) (0.4625,13) (0.4650,22) (0.4675,11) (0.4700,17) (0.4725,5) (0.4750,14) (0.4775,9) (0.4800,21) (0.4825,15) (0.4850,12) (0.4875,23) (0.4900,7) (0.4925,18) (0.4950,11) (0.4975,20) (0.5000,14) (0.5025,8) (0.5050,17) (0.5075,22) (0.5100,12) (0.5125,19) (0.5150,6) (0.5175,14) (0.5200,10) (0.5225,23) (0.5250,16) (0.5275,9) (0.5300,18) (0.5325,13) (0.5350,21) (0.5375,6) (0.5400,15) (0.5425,11) (0.5450,20) (0.5475,17) (0.5500,8) (0.5525,14) (0.5550,22) (0.5575,11) (0.5600,16) (0.5625,5) (0.5650,19) (0.5675,13) (0.5700,9) (0.5725,21) (0.5750,15) (0.5775,7) (0.5800,18) (0.5825,12) (0.5850,20) (0.5875,10) (0.5900,16) (0.5925,6) (0.5950,14) (0.5975,20) (0.6000,12) (0.6025,8) (0.6050,17) (0.6075,13) (0.6100,21) (0.6125,5) (0.6150,15) (0.6175,10) (0.6200,18) (0.6225,7) (0.6250,14) (0.6275,20) (0.6300,11) (0.6325,16) (0.6350,6) (0.6375,12) (0.6400,19) (0.6425,9) (0.6450,15) (0.6475,5) (0.6500,13)
(0.6550,18) (0.6600,8) (0.6650,14) (0.6700,5) (0.6750,16) (0.6800,11) (0.6850,7) (0.6900,17) (0.6950,12) (0.7000,5) (0.7050,14) (0.7100,9) (0.7150,16) (0.7200,6) (0.7250,12) (0.7300,15) (0.7350,5) (0.7400,10) (0.7450,17) (0.7500,8)
};
\end{axis}
\node[anchor=base, font=\fontsize{14}{16}\selectfont] at (280.85pt,330pt) {\textit{r}\textsuperscript{2} = 0.052};
\node[anchor=base, font=\fontsize{12}{14}\selectfont] at (279.5pt,18.5pt) {Entropy for R = \{M\}};
\node[anchor=base, rotate=90, font=\fontsize{12}{14}\selectfont] at (33pt,192pt) {Distinct observations |E(R)| for R = \{M\}};
\pgfresetboundingbox
\useasboundingbox (0,0) rectangle (507pt,364.5pt);
\end{tikzpicture}
\end{document}
